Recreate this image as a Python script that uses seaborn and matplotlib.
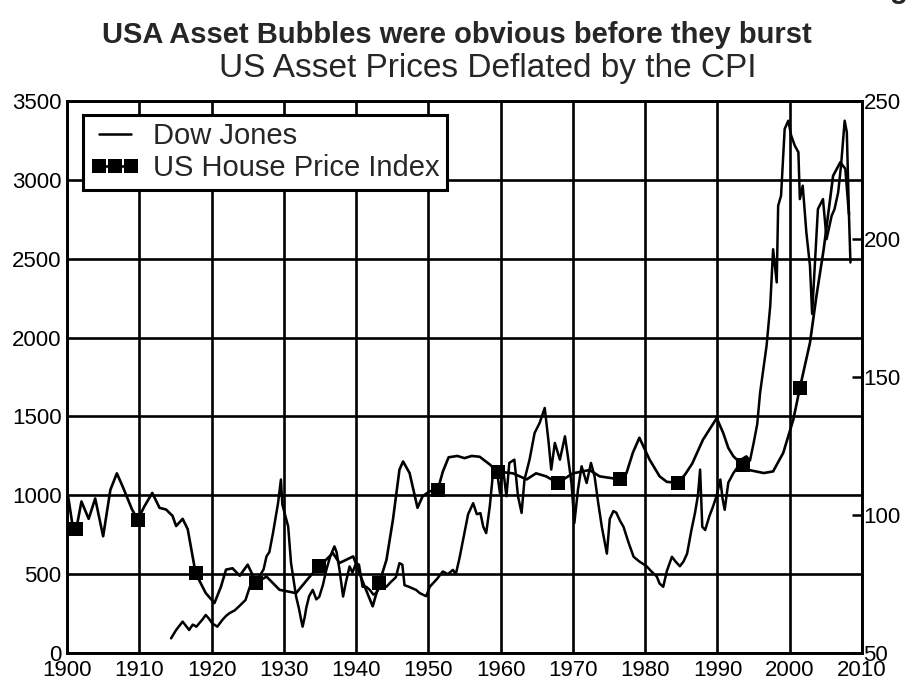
import matplotlib
matplotlib.use("Agg")
import matplotlib.pyplot as plt
import numpy as np
import seaborn as sns

# ---------------------------------------------------------------
# Dados (Dow Jones no eixo esquerdo,
# índice de preços de casas no eixo direito)
# ---------------------------------------------------------------
dow_years = [
    1914.4, 1915.1, 1915.6, 1916.0, 1916.5, 1916.9, 1917.4, 1917.9, 1918.7, 1919.2,
    1919.6, 1920.1, 1920.8, 1921.5, 1922.0, 1922.5, 1923.2, 1923.9, 1924.7, 1925.3,
    1926.0, 1926.6, 1927.2, 1927.6, 1928.0, 1928.5, 1929.2, 1929.6, 1929.8, 1930.1,
    1930.6, 1931.0, 1931.3, 1931.7, 1932.1, 1932.4, 1932.6, 1932.9, 1933.1, 1933.5,
    1934.0, 1934.5, 1934.9, 1935.4, 1935.9, 1936.4, 1937.0, 1937.3, 1937.7, 1938.2,
    1938.6, 1939.1, 1939.5, 1940.0, 1940.4, 1940.9, 1941.4, 1941.9, 1942.4, 1942.8,
    1943.5, 1944.2, 1944.8, 1945.5, 1946.0, 1946.4, 1946.7, 1947.3, 1948.3, 1948.8,
    1949.7, 1950.2, 1950.6, 1951.2, 1952.0, 1952.7, 1953.4, 1953.8, 1954.3, 1954.8,
    1955.5, 1956.2, 1956.7, 1957.2, 1957.6, 1958.0, 1958.5, 1958.9, 1959.4, 1959.9,
    1960.3, 1960.8, 1961.2, 1961.9, 1962.4, 1962.9, 1963.3, 1964.0, 1964.7, 1965.4,
    1966.1, 1966.6, 1967.0, 1967.5, 1968.2, 1968.9, 1969.3, 1969.8, 1970.2, 1970.7,
    1971.2, 1971.9, 1972.5, 1973.0, 1973.5, 1974.0, 1974.7, 1975.1, 1975.6, 1976.0,
    1976.5, 1977.0, 1977.7, 1978.4, 1979.2, 1980.2, 1980.8, 1981.6, 1982.0, 1982.5,
    1983.0, 1983.7, 1984.2, 1984.8, 1985.3, 1985.8, 1986.4, 1986.9, 1987.3, 1987.6,
    1987.9, 1988.3, 1988.9, 1989.4, 1989.9, 1990.4, 1990.7, 1991.0, 1991.5, 1992.2,
    1992.8, 1993.4, 1994.0, 1994.5, 1995.0, 1995.5, 1995.9, 1996.4, 1996.8, 1997.3,
    1997.7, 1998.2, 1998.4, 1998.8, 1999.3, 1999.8, 2000.2, 2000.7, 2001.2, 2001.4,
    2001.8, 2002.3, 2002.8, 2003.1, 2003.9, 2004.6, 2005.1, 2005.8, 2006.2, 2006.7,
    2007.1, 2007.6, 2007.9, 2008.2, 2008.4,
]
dow_values = [
    93, 146, 175, 199, 170, 146, 180, 167, 210, 241,
    220, 188, 167, 210, 235, 253, 270, 300, 336, 420,
    445, 485, 530, 612, 640, 760, 950, 1100, 940, 888,
    803, 570, 480, 358, 280, 210, 167, 230, 285, 360,
    400, 340, 356, 430, 530, 610, 676, 640, 530, 358,
    450, 549, 510, 570, 560, 420, 420, 400, 370, 380,
    440, 420, 450, 480, 570, 560, 430, 420, 400, 380,
    360, 420, 440, 470, 517, 500, 527, 500, 600, 718,
    880, 950, 880, 887, 800, 760, 930, 1120, 1184, 1015,
    1184, 994, 1205, 1226, 994, 888, 1099, 1226, 1395, 1459,
    1554, 1353, 1163, 1332, 1226, 1374, 1248, 1078, 824, 1036,
    1184, 1078, 1205, 1120, 952, 800, 630, 850, 900, 890,
    840, 800, 700, 610, 580, 550, 520, 485, 440, 420,
    520, 610, 580, 550, 580, 630, 780, 890, 1000, 1163,
    800, 780, 870, 930, 1000, 1100, 980, 908, 1080, 1140,
    1180, 1230, 1247, 1220, 1330, 1450, 1650, 1818, 1950, 2200,
    2560, 2350, 2836, 2900, 3323, 3375, 3281, 3217, 3175, 2878,
    2963, 2667, 2455, 2150, 2815, 2878, 2624, 2772, 2815, 2920,
    3090, 3375, 3302, 2772, 2476,
]

house_years = [
    1900.0, 1900.3, 1900.7, 1901.3, 1902.0, 1903.0, 1903.9, 1905.0, 1906.0, 1906.9,
    1907.8, 1909.0, 1909.8, 1910.7, 1911.8, 1912.8, 1913.7, 1914.6, 1915.1, 1916.0,
    1916.7, 1917.8, 1919.2, 1920.4, 1921.3, 1922.0, 1922.9, 1923.9, 1925.0, 1926.2,
    1927.6, 1929.4, 1931.7, 1933.6, 1934.9, 1936.8, 1937.7, 1939.6, 1941.0, 1942.3,
    1943.2, 1944.2, 1945.1, 1946.0, 1946.5, 1947.4, 1948.5, 1949.2, 1950.2, 1951.3,
    1952.0, 1952.8, 1954.0, 1955.0, 1956.0, 1957.1, 1958.5, 1959.6, 1961.7, 1963.6,
    1964.9, 1966.3, 1967.9, 1970.0, 1972.3, 1973.7, 1976.5, 1977.4, 1978.3, 1979.2,
    1980.6, 1982.0, 1983.0, 1984.5, 1985.5, 1986.5, 1988.0, 1989.9, 1990.8, 1991.5,
    1992.2, 1993.5, 1994.0, 1996.4, 1997.7, 1999.1, 2000.5, 2001.4, 2002.8, 2003.7,
    2004.7, 2006.0, 2007.0, 2007.7, 2008.2,
]
house_values = [
    109.4, 104.3, 97.4, 95.1, 104.9, 98.6, 106.0, 92.3, 109.1, 115.1,
    109.7, 102.0, 98.3, 103.1, 108.0, 102.6, 102.0, 99.7, 96.0, 98.6,
    94.9, 78.9, 71.7, 68.1, 74.0, 80.2, 80.7, 78.0, 82.0, 75.4,
    77.7, 72.9, 71.7, 77.7, 81.4, 86.2, 82.6, 85.0, 75.3, 66.9,
    75.3, 83.7, 98.3, 116.4, 119.4, 115.2, 102.6, 106.8, 108.6, 109.1,
    115.7, 120.9, 121.4, 120.6, 121.4, 121.1, 118.3, 115.7, 115.1, 112.9,
    115.1, 114.0, 111.6, 115.1, 116.3, 114.0, 112.9, 115.1, 122.6, 128.0,
    120.1, 114.0, 112.0, 111.7, 114.6, 118.6, 127.3, 135.1, 129.7, 124.3,
    121.3, 118.0, 116.5, 115.2, 115.8, 122.5, 134.6, 146.0, 162.4, 179.4,
    196.3, 222.9, 227.8, 225.4, 208.9,
]
# anos em que aparecem os marcadores quadrados
marker_years = [1901.3, 1909.8, 1917.8, 1926.2, 1934.9, 1943.2, 1951.3,
                1959.6, 1967.9, 1976.5, 1984.5, 1993.5, 2001.4]

left_ticks = list(range(0, 3501, 500))
right_ticks = [50, 100, 150, 200, 250]
year_ticks = list(range(1900, 2011, 10))

# ---------------------------------------------------------------
# Figura
# ---------------------------------------------------------------
sns.set_style("white")
plt.rcParams["font.family"] = ["Liberation Sans", "DejaVu Sans"]

fig = plt.figure(figsize=(9.07, 6.83), dpi=100)
ax = fig.add_axes([67 / 907, 30 / 683, 795 / 907, 552 / 683])
ax2 = ax.twinx()

sns.lineplot(x=dow_years, y=dow_values, ax=ax, color="black", lw=1.8,
             estimator=None, sort=False, label="Dow Jones", legend=False)

marks = [int(np.abs(np.array(house_years) - y).argmin()) for y in marker_years]
sns.lineplot(x=house_years, y=house_values, ax=ax2, color="black", lw=1.9,
             estimator=None, sort=False, marker="s", markersize=10,
             markevery=marks, markeredgewidth=0, label="US House Price Index",
             legend=False)

ax.set_xlim(1900, 2010)
ax.set_ylim(0, 3500)
ax2.set_ylim(50, 250)
ax.set_xticks(year_ticks)
ax.set_yticks(left_ticks)
ax2.set_yticks(right_ticks)

ax.grid(True, color="black", lw=1.9)
ax2.grid(False)
ax.set_axisbelow(True)

ax.tick_params(axis="both", length=0, labelsize=16, pad=4, colors="black")
ax.tick_params(axis="x", pad=5)
ax2.tick_params(axis="y", direction="in", length=7, width=1.8,
                labelsize=16, pad=1, colors="black")
for a in (ax, ax2):
    for s in a.spines.values():
        s.set_color("black")
        s.set_linewidth(1.9)
ax.set_xlabel("")
ax.set_ylabel("")
ax2.set_ylabel("")

h1, l1 = ax.get_legend_handles_labels()
h2, l2 = ax2.get_legend_handles_labels()
leg = ax2.legend(h1 + h2, l1 + l2, loc="upper left", bbox_to_anchor=(0.02, 0.975),
                 borderaxespad=0, fontsize=21, frameon=True, fancybox=False,
                 framealpha=1, edgecolor="black", numpoints=3, handlelength=1.7,
                 handletextpad=0.45, borderpad=0.25, labelspacing=0.15)
leg.get_frame().set_linewidth(2.2)

# títulos posicionados em pixels
fig.text(457, 683 - 43, "USA Asset Bubbles were obvious before they burst",
         transform=None, ha="center", va="baseline", fontsize=21, fontweight="bold")
fig.text(488, 683 - 77, "US Asset Prices Deflated by the CPI",
         transform=None, ha="center", va="baseline", fontsize=24)
fig.text(0.981, 1.003, "g", ha="left", va="baseline", fontsize=21, fontweight="bold")

fig.savefig("out.png", dpi=100)
